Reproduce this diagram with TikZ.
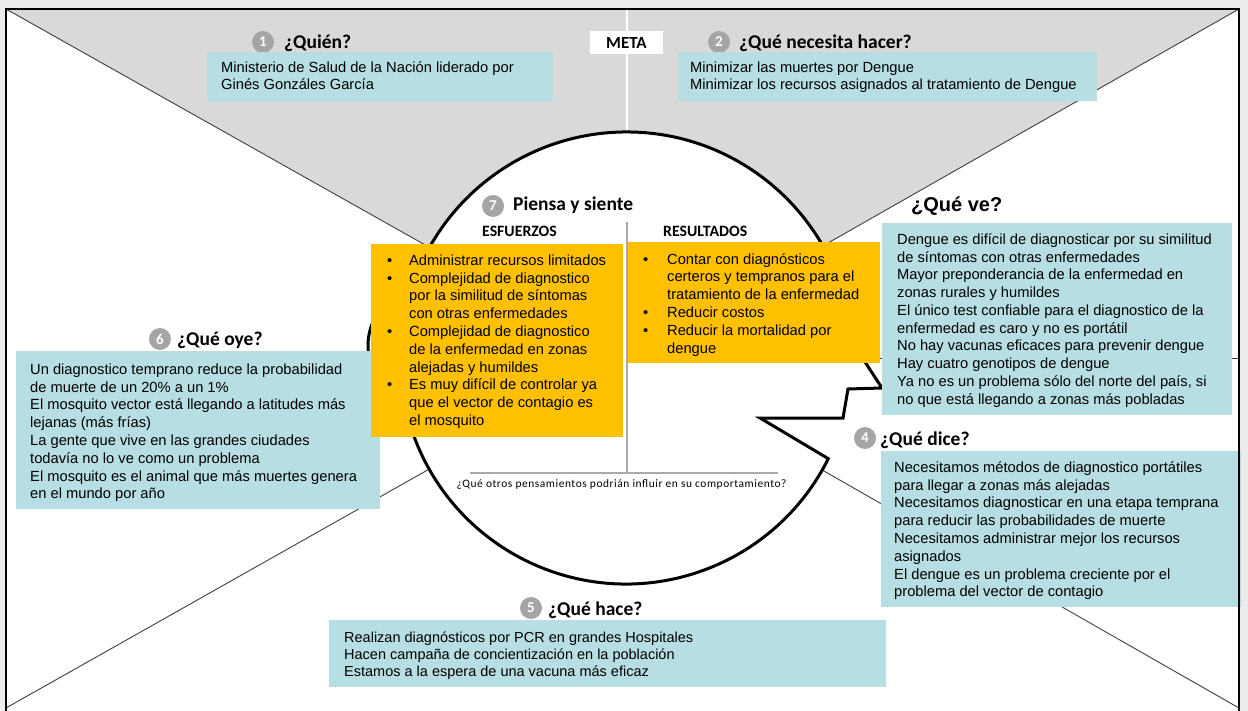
\documentclass[tikz,border=0pt]{standalone}
\usepackage{fontspec}
\setmainfont{Liberation Sans}
\newfontfamily\carl{Carlito}
\newfontfamily\carlsp[LetterSpace=5]{Carlito}
\definecolor{outerbg}{RGB}{236,236,236}
\definecolor{topgray}{RGB}{217,217,217}
\definecolor{boxblue}{RGB}{183,222,226}
\definecolor{boxorange}{RGB}{255,192,0}
\definecolor{badgegray}{RGB}{165,165,165}
\definecolor{linegray}{RGB}{64,64,64}
\definecolor{divgray}{RGB}{170,170,170}
\newcommand\mytop{\rule{0pt}{12pt}}
\newcommand\mybul{\makebox[22pt][l]{\textbullet}}
\newcommand\myind{\hspace*{22pt}}
\newcommand\mybulr{\makebox[24pt][l]{\textbullet}}
\newcommand\myindr{\hspace*{24pt}}
\tikzset{
  bluebox/.style={fill=boxblue, draw=none},
  orangebox/.style={fill=boxorange, draw=none},
  body/.style={anchor=north west, inner sep=0pt, align=left,
    font=\fontsize{14.7}{17.8}\selectfont},
  bodyb/.style={anchor=north west, inner sep=0pt, align=left,
    font=\fontsize{14.5}{17}\selectfont},
  title/.style={anchor=base west, inner sep=0pt, font=\carl\bfseries\fontsize{19.5}{24}\selectfont},
  badge/.style={circle, fill=badgegray, minimum size=22pt, inner sep=0pt, text=white,
    font=\carl\bfseries\fontsize{15}{15}\selectfont},
  diag/.style={draw=linegray, line width=0.9pt},
  colhead/.style={anchor=base west, inner sep=0pt, font=\carl\bfseries\fontsize{15.8}{18}\selectfont},
}
\begin{document}
\setlength{\lineskiplimit}{-20pt}
\begin{tikzpicture}[x=1pt,y=-1pt]
\useasboundingbox (0,0) rectangle (1248,711);
\fill[outerbg] (0,0) rectangle (1248,711);
\fill[white] (6,9) rectangle (1239,711);
\coordinate (C) at (626,358);
\coordinate (TL) at (6,9);
\coordinate (TR) at (1239,9);
\coordinate (BL) at (6,708);
\coordinate (BR) at (1239,708);
\coordinate (RM) at (1239,358);
\coordinate (VT) at (627,9);
\coordinate (VB) at (627,250);
% top grey region
\fill[topgray] (TL) -- (TR) -- (C) -- cycle;
\draw[white, line width=1.5pt] (VT) -- (VB);
% diagonals
\draw[diag] (TL) -- (C);
\draw[diag] (TR) -- (C);
\draw[diag] (BL) -- (C);
\draw[diag] (BR) -- (C);
\draw[linegray, line width=0.8pt] (RM) -- (C);
% head with mouth
\filldraw[fill=white, draw=black, line width=3pt, line join=miter]
  (852,342) arc[start angle=-4.05, end angle=-150, radius=226]
  .. controls (412.8,275.3) and (368,305) .. (368,345)
  .. controls (368,385) and (401.6,402.4) .. (413.6,435.3)
  arc[start angle=-200, end angle=-333.55, radius=226]
  -- (760,418) -- (843,418) -- (848,389) -- (882,388) -- cycle;
% inner dividers
\coordinate (DT) at (627,222);
\coordinate (DB) at (627,473);
\coordinate (HL) at (470,473);
\coordinate (HR) at (778,473);
\draw[divgray, line width=1.2pt] (DT) -- (DB);
\draw[divgray, line width=1.2pt] (HL) -- (HR);
% META
\node[fill=white, inner sep=0pt, minimum width=73pt, minimum height=23pt,
  font=\carl\bfseries\fontsize{17}{17}\selectfont] (meta) at (626.5,42.5) {META};
% 1 Quien
\node[badge] (b1) at (263,42) {1};
\node[title] (t1) at (284,48.5) {¿Quién?};
\fill[bluebox] (207,52) rectangle (553,101);
\node[body] (x1) at (221,60) {\mytop Ministerio de Salud de la Nación liderado por\\Ginés Gonzáles García};
% 2 Que necesita hacer
\node[badge] (b2) at (719,42) {2};
\node[title] (t2) at (739,48.5) {¿Qué necesita hacer?};
\fill[bluebox] (678,52) rectangle (1097,101);
\node[body] (x2) at (690,60) {\mytop Minimizar las muertes por Dengue\\Minimizar los recursos asignados al tratamiento de Dengue};
% Que ve
\node[anchor=base west, inner sep=0pt, font=\bfseries\fontsize{20}{24}\selectfont] (t3) at (911,212) {¿Qué ve?};
\fill[bluebox] (882,223) rectangle (1232,415);
\node[body] (x3) at (897,232) {\mytop Dengue es difícil de diagnosticar por su similitud\\
de síntomas con otras enfermedades\\
Mayor preponderancia de la enfermedad en\\
zonas rurales y humildes\\
El único test confiable para el diagnostico de la\\
enfermedad es caro y no es portátil\\
No hay vacunas eficaces para prevenir dengue\\
Hay cuatro genotipos de dengue\\
Ya no es un problema sólo del norte del país, si\\
no que está llegando a zonas más pobladas};
% 4 Que dice
\node[badge] (b4) at (865,438) {4};
\node[title] (t4) at (880,445) {¿Qué dice?};
\fill[bluebox] (881,451) rectangle (1241,607);
\node[body] (x4) at (894,460) {\mytop Necesitamos métodos de diagnostico portátiles\\
para llegar a zonas más alejadas\\
Necesitamos diagnosticar en una etapa temprana\\
para reducir las probabilidades de muerte\\
Necesitamos administrar mejor los recursos\\
asignados\\
El dengue es un problema creciente por el\\
problema del vector de contagio};
% 5 Que hace
\node[badge] (b5) at (531,608) {5};
\node[title] (t5) at (548,615) {¿Qué hace?};
\fill[bluebox] (329,620) rectangle (886,687);
\node[bodyb] (x5) at (344,630) {\mytop Realizan diagnósticos por PCR en grandes Hospitales\\
Hacen campaña de concientización en la población\\
Estamos a la espera de una vacuna más eficaz};
% 6 Que oye
\node[badge] (b6) at (160,339) {6};
\node[title] (t6) at (177,345.5) {¿Qué oye?};
\fill[bluebox] (16,351) rectangle (380,509);
\node[body] (x6) at (30,362) {\mytop Un diagnostico temprano reduce la probabilidad\\
de muerte de un 20\% a un 1\%\\
El mosquito vector está llegando a latitudes más\\
lejanas (más frías)\\
La gente que vive en las grandes ciudades\\
todavía no lo ve como un problema\\
El mosquito es el animal que más muertes genera\\
en el mundo por año};
% 7 Piensa y siente
\node[badge] (b7) at (493,206) {7};
\node[title] (t7) at (513,210.5) {Piensa y siente};
\node[colhead] (esf) at (482,237) {ESFUERZOS};
\node[colhead] (res) at (663,237) {RESULTADOS};
\fill[orangebox] (371,244) rectangle (623,437);
\node[body] (x7) at (387,253) {\mytop\mybul Administrar recursos limitados\\
\mybul Complejidad de diagnostico\\
\myind por la similitud de síntomas\\
\myind con otras enfermedades\\
\mybul Complejidad de diagnostico\\
\myind de la enfermedad en zonas\\
\myind alejadas y humildes\\
\mybul Es muy difícil de controlar ya\\
\myind que el vector de contagio es\\
\myind el mosquito};
\fill[orangebox] (628,242) rectangle (880,363);
\node[body] (x8) at (643,252) {\mytop\mybulr Contar con diagnósticos\\
\myindr certeros y tempranos para el\\
\myindr tratamiento de la enfermedad\\
\mybulr Reducir costos\\
\mybulr Reducir la mortalidad por\\
\myindr dengue};
\node[anchor=base, inner sep=0pt, font=\carlsp\fontsize{11.4}{13}\selectfont] (qq) at (621.5,487) {¿Qué otros pensamientos podrián influir en su comportamiento?};
% frame
\draw[black, line width=2.6pt, line join=miter] (6,711) -- (TL) -- (TR) -- (1239,711);
\end{tikzpicture}
\end{document}
